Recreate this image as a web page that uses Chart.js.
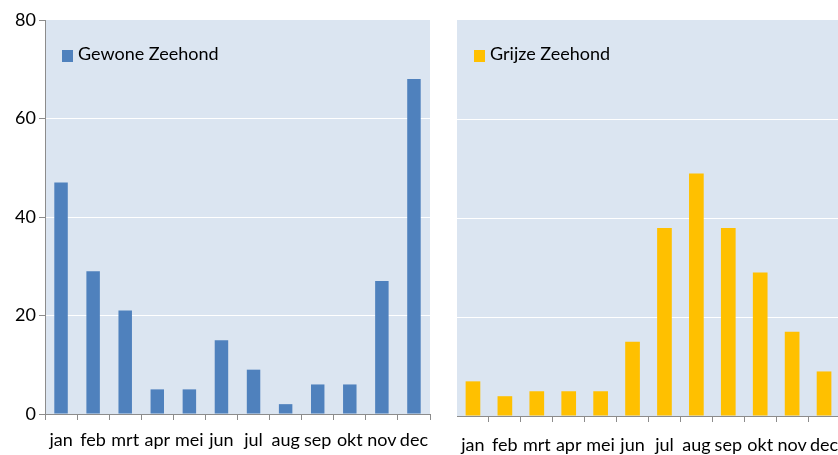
<!DOCTYPE html>
<html>
<head>
<meta charset="utf-8">
<script src="https://cdn.jsdelivr.net/npm/chart.js@4/dist/chart.umd.min.js"></script>
<style>
html,body{margin:0;padding:0;background:#fff;overflow:hidden;width:838px;height:455px;}
#c1{position:absolute;left:0;top:0;}
#c2{position:absolute;left:440px;top:0;}
</style>
</head>
<body>
<canvas id="c1" width="440" height="455" style="width:440px;height:455px"></canvas>
<canvas id="c2" width="400" height="455" style="width:400px;height:455px"></canvas>
<script>
const months = ['jan','feb','mrt','apr','mei','jun','jul','aug','sep','okt','nov','dec'];
const gewoneZeehond = [47,29,21,5,5,15,9,2,6,6,27,68];
const grijzeZeehond = [7,4,5,5,5,15,38,49,38,29,17,9];
const yTicks = [0,20,40,60,80];

const FONT = "Lato, 'DejaVu Sans', sans-serif";

const bgPlugin = {
  id:'plotBg',
  beforeDraw(chart){
    const a = chart.chartArea, ctx = chart.ctx;
    ctx.save();
    ctx.fillStyle = '#dbe5f1';
    ctx.fillRect(a.left, a.top, a.right - a.left, a.bottom - a.top);
    ctx.restore();
  }
};
const legendPlugin = {
  id:'innerLegend',
  afterDraw(chart){
    const a = chart.chartArea, ctx = chart.ctx;
    const ds = chart.data.datasets[0];
    ctx.save();
    ctx.fillStyle = ds.backgroundColor;
    ctx.fillRect(a.left + 17, a.top + 30, 11, 12);
    ctx.fillStyle = '#000';
    ctx.font = "18px " + FONT;
    ctx.textBaseline = 'alphabetic';
    ctx.fillText(ds.label, a.left + 33, a.top + 40);
    ctx.restore();
  }
};

function makeChart(id, label, data, color, opts){
  return new Chart(document.getElementById(id), {
    type:'bar',
    data:{labels:months, datasets:[{label:label, data:data, backgroundColor:color,
      barPercentage:opts.barPct, categoryPercentage:1}]},
    options:{
      responsive:false, maintainAspectRatio:false, animation:false, devicePixelRatio:1,
      layout:{padding:{top:20, right:opts.rightPad, left:0, bottom:0}},
      plugins:{legend:{display:false}, tooltip:{enabled:false}},
      scales:{
        x:{
          grid:{drawOnChartArea:false, drawTicks:true, tickLength:6,
                tickColor:(c)=> (opts.skipFirstTick && c.index===0) ? 'rgba(0,0,0,0)' : '#8c8c8c', offset:true},
          border:{display:true, color:'#8c8c8c', width:1},
          ticks:{color:'#000', font:{family:FONT, size:18}, padding:opts.xPad, maxRotation:0, autoSkip:false},
          afterFit(s){ s.height = opts.xHeight; s.paddingLeft = 0; s.paddingRight = 0; }
        },
        y:{
          min:0, max:80,
          afterBuildTicks(s){ s.ticks = yTicks.map(v=>({value:v})); },
          grid:{color:(c)=> (c.tick && (c.tick.value===0||c.tick.value===80)) ? 'rgba(0,0,0,0)' : '#ffffff',
                tickColor:'#8c8c8c', drawTicks:opts.yLabels, tickLength:6, lineWidth:1},
          border:{display:opts.yLabels, color:'#8c8c8c'},
          ticks:{display:opts.yLabels, color:'#000', font:{family:FONT, size:18}, padding:3},
          afterFit(s){ s.width = opts.yWidth; }
        }
      }
    },
    plugins:[bgPlugin, legendPlugin]
  });
}

makeChart('c1','Gewone Zeehond', gewoneZeehond, '#4f81bd',
  {barPct:0.42, rightPad:10, xHeight:41, xPad:9, yWidth:45, yLabels:true, skipFirstTick:false});
makeChart('c2','Grijze Zeehond', grijzeZeehond, '#ffc000',
  {barPct:0.46, rightPad:0, xHeight:39, xPad:12, yWidth:17, yLabels:false, skipFirstTick:true});
</script>
</body>
</html>
